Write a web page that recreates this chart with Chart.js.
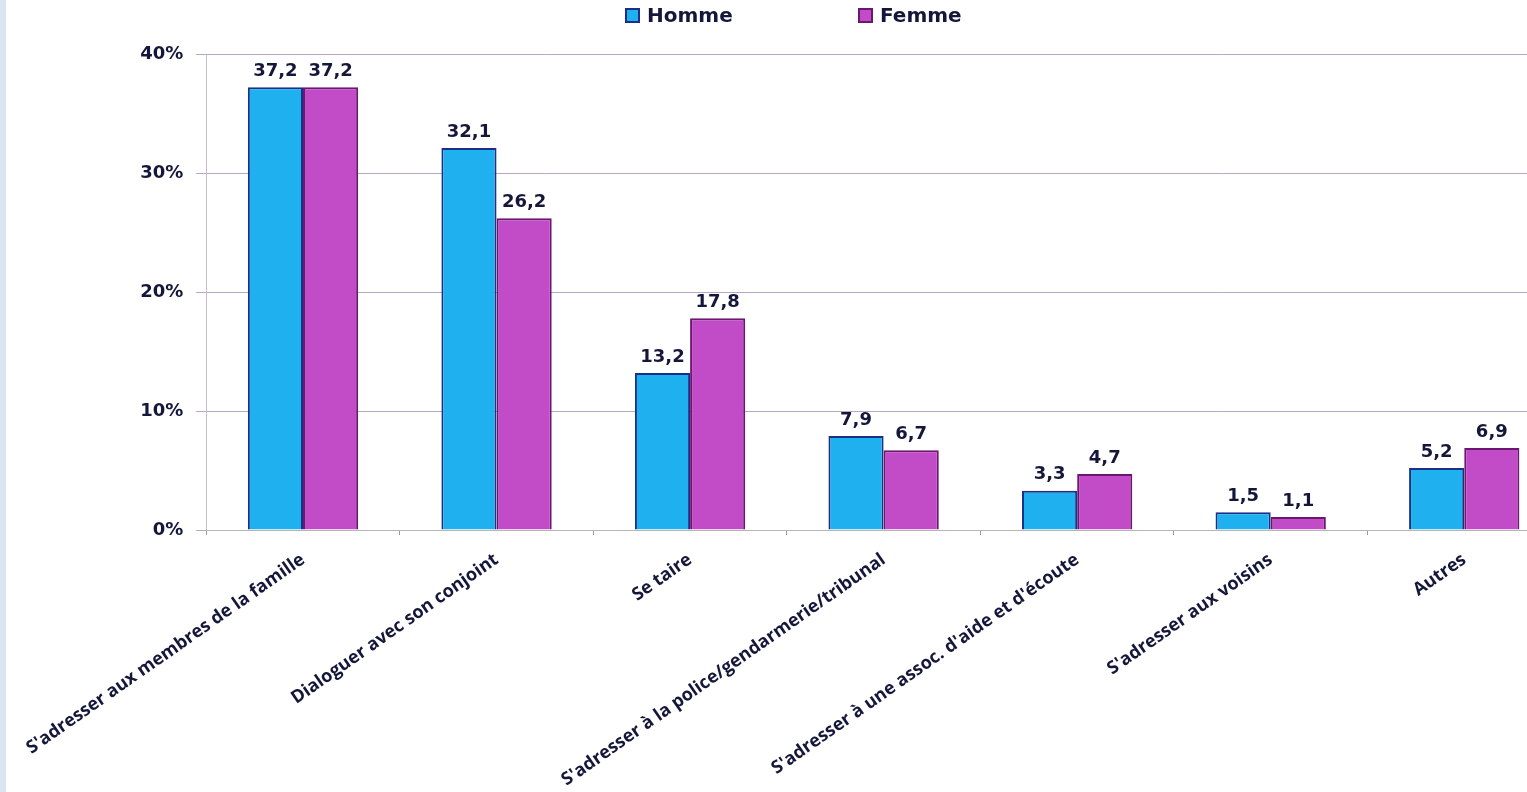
<!DOCTYPE html>
<html>
<head>
<meta charset="utf-8">
<script src="https://cdn.jsdelivr.net/npm/chart.js@4"></script>
<style>
  html, body { margin: 0; padding: 0; background: #fff; overflow: hidden; }
  #wrap { position: absolute; left: 0; top: 0; width: 1561px; height: 792px; }
  #strip { position: absolute; left: 0; top: 0; width: 6px; height: 792px; background: #dbe5f1; z-index: 2; }
  #legend { position: absolute; top: 3px; left: 0; z-index: 2; font: bold 20px "DejaVu Sans", sans-serif; color: #15173a; }
  .item { position: absolute; white-space: nowrap; display: flex; align-items: center; }
  .item i { display: inline-block; width: 11px; height: 11px; margin-right: 7px; border: 2px solid; }
</style>
</head>
<body>
<div id="strip"></div>
<div id="wrap"><canvas id="reactions"></canvas></div>
<div id="legend"></div>
<script>
const categories = [
  "S'adresser aux membres de la famille",
  "Dialoguer avec son conjoint",
  "Se taire",
  "S'adresser à la police/gendarmerie/tribunal",
  "S'adresser à une assoc. d'aide et d'écoute",
  "S'adresser aux voisins",
  "Autres"
];
const homme = [37.2, 32.1, 13.2, 7.9, 3.3, 1.5, 5.2];
const femme = [37.2, 26.2, 17.8, 6.7, 4.7, 1.1, 6.9];
const yTicks = [0, 10, 20, 30, 40];

const ink = '#15173a';
const fmt = v => v.toFixed(1).replace('.', ',');

// value above each bar
const valueLabels = {
  id: 'valueLabels',
  afterDatasetsDraw(chart) {
    const ctx = chart.ctx;
    ctx.save();
    ctx.font = 'bold 18px "DejaVu Sans", sans-serif';
    ctx.fillStyle = ink;
    ctx.textAlign = 'center';
    ctx.textBaseline = 'bottom';
    chart.data.datasets.forEach((ds, i) => {
      chart.getDatasetMeta(i).data.forEach((bar, j) => {
        ctx.fillText(fmt(ds.data[j]), bar.x, bar.y - 7);
      });
    });
    ctx.restore();
  }
};

const ctx = document.getElementById('reactions').getContext('2d');
const chart = new Chart(ctx, {
  type: 'bar',
  data: {
    labels: categories,
    datasets: [{
      label: 'Homme',
      data: homme,
      backgroundColor: '#1fb0f0',
      borderColor: '#1b2f86',
      borderWidth: 2,
      borderSkipped: 'bottom'
    }, {
      label: 'Femme',
      data: femme,
      backgroundColor: '#c24cc8',
      borderColor: '#6a176f',
      borderWidth: 2,
      borderSkipped: 'bottom'
    }]
  },
  options: {
    responsive: true,
    maintainAspectRatio: false,
    animation: false,
    layout: { padding: { top: 54, left: 0, right: 0, bottom: 0 } },
    datasets: {
      bar: { categoryPercentage: 0.57, barPercentage: 1 }
    },
    plugins: {
      legend: { display: false },
      tooltip: { enabled: false }
    },
    scales: {
      x: {
        afterFit(scale) { scale.height = 262; },
        grid: { drawOnChartArea: false, drawTicks: true, tickLength: 5, color: '#9a9a9a' },
        border: { display: true, color: '#b5b5b5' },
        ticks: {
          autoSkip: false,
          minRotation: 35,
          maxRotation: 35,
          padding: 14,
          color: ink,
          font: { family: '"Open Sans", sans-serif', size: 18, weight: 'bold' }
        }
      },
      y: {
        min: 0,
        max: 40,
        afterFit(scale) { scale.width = 203; },
        afterBuildTicks(scale) { scale.ticks = yTicks.map(v => ({ value: v })); },
        grid: { color: '#b9a6c4', tickLength: 10 },
        border: { display: true, color: '#c4bcc8' },
        ticks: {
          padding: 13,
          color: ink,
          font: { family: '"DejaVu Sans", sans-serif', size: 18, weight: 'bold' },
          callback: v => v + '%'
        }
      }
    }
  },
  plugins: [valueLabels]
});

// legend built from the datasets
const legend = document.getElementById('legend');
const legendX = [625, 858];
chart.data.datasets.forEach((ds, i) => {
  const el = document.createElement('div');
  el.className = 'item';
  el.style.left = legendX[i] + 'px';
  el.innerHTML = '<i style="background:' + ds.backgroundColor + ';border-color:' + ds.borderColor + '"></i>' + ds.label;
  legend.appendChild(el);
});
</script>
</body>
</html>
